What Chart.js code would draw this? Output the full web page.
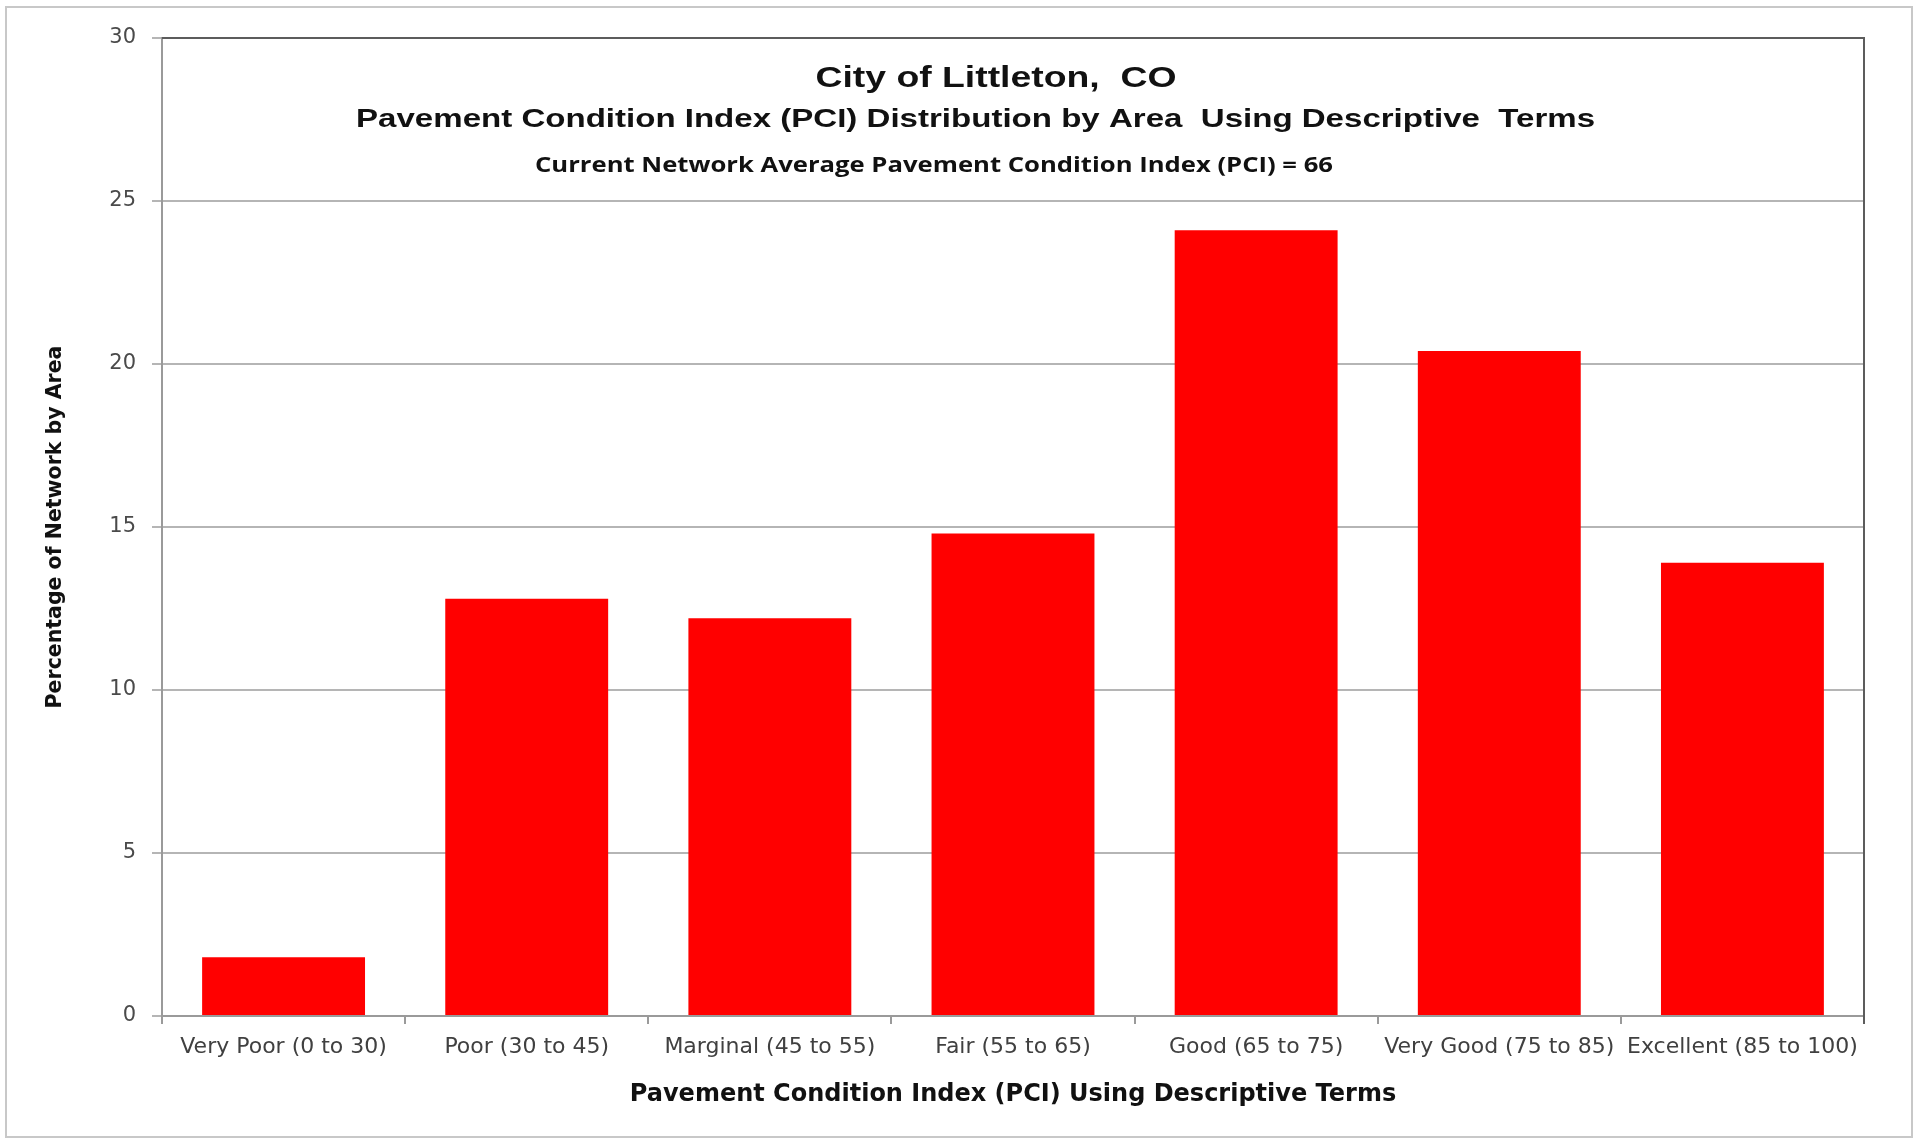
<!DOCTYPE html>
<html>
<head>
<meta charset="utf-8">
<title>City of Littleton, CO - PCI Distribution</title>
<script src="https://cdn.jsdelivr.net/npm/chart.js@4.4.1/dist/chart.umd.min.js"></script>
<style>
    html, body { margin: 0; padding: 0; background: #fff; }
    canvas { display: block; }
</style>
</head>
<body>
<canvas id="pciChart" width="1916" height="1139"></canvas>
<script>
// ------------------- Data -------------------
const categories = ['Very Poor (0 to 30)', 'Poor (30 to 45)', 'Marginal (45 to 55)', 'Fair (55 to 65)',
                    'Good (65 to 75)', 'Very Good (75 to 85)', 'Excellent (85 to 100)'];
const percentByArea = [1.8, 12.8, 12.2, 14.8, 24.1, 20.4, 13.9];
const yTicks = [0, 5, 10, 15, 20, 25, 30];
const titleLines = ['City of Littleton,  CO',
                    'Pavement Condition Index (PCI) Distribution by Area  Using Descriptive  Terms',
                    'Current Network Average Pavement Condition Index (PCI) = 66'];

// text drawn a bit wider than the font, like the stretched original
function drawStretched(ctx, text, x, y, font, targetWidth) {
    ctx.font = font;
    const sx = targetWidth / ctx.measureText(text).width;
    ctx.save();
    ctx.translate(x, y);
    ctx.scale(sx, 1);
    ctx.fillText(text, 0, 0);
    ctx.restore();
}

// ------------------- Frame, plot border and titles inside plot -------------------
const frameAndTitles = {
    id: 'frameAndTitles',
    beforeDraw(chart) {
        const ctx = chart.ctx;
        ctx.save();
        ctx.fillStyle = '#fff';
        ctx.fillRect(0, 0, chart.width, chart.height);
        ctx.strokeStyle = '#c8c8c8';
        ctx.lineWidth = 2;
        ctx.strokeRect(6, 7, 1906, 1130);
        ctx.restore();
    },
    afterDraw(chart) {
        const { ctx, chartArea: a } = chart;
        const w = a.right - a.left;
        ctx.save();
        ctx.strokeStyle = '#5c5c5c';
        ctx.lineWidth = 2;
        ctx.beginPath();
        ctx.moveTo(a.left, a.top);
        ctx.lineTo(a.right, a.top);
        ctx.lineTo(a.right, a.bottom + 8);
        ctx.stroke();

        ctx.fillStyle = '#111';
        ctx.textAlign = 'center';
        ctx.textBaseline = 'middle';
        drawStretched(ctx, titleLines[0], a.left + w * 0.490, a.top + 41, 'bold 29px "Liberation Sans"', 361);
        drawStretched(ctx, titleLines[1], a.left + w * 0.478, a.top + 82, 'bold 26px "Liberation Sans"', 1239);
        drawStretched(ctx, titleLines[2], a.left + w * 0.4536, a.top + 128, 'bold 22px "Open Sans"', 798);
        ctx.restore();
    }
};

// ------------------- Chart -------------------
new Chart(document.getElementById('pciChart'), {
    type: 'bar',
    data: {
        labels: categories,
        datasets: [{
            data: percentByArea,
            backgroundColor: '#ff0000',
            borderWidth: 0,
            barPercentage: 0.67,
            categoryPercentage: 1.0
        }]
    },
    options: {
        responsive: false,
        animation: false,
        layout: { padding: { top: 38, right: 52, left: 0, bottom: 0 } },
        plugins: { legend: { display: false }, tooltip: { enabled: false } },
        scales: {
            x: {
                grid: { drawOnChartArea: false, drawTicks: true, tickLength: 8, color: '#9a9a9a', lineWidth: 2, offset: true },
                border: { color: '#9a9a9a', width: 2 },
                ticks: { autoSkip: false, maxRotation: 0, padding: 10, color: '#404040',
                         font: { family: 'DejaVu Sans', size: 22 } },
                title: { display: true, text: 'Pavement Condition Index (PCI) Using Descriptive Terms', color: '#111',
                         font: { family: 'DejaVu Sans', size: 24, weight: 'bold' }, padding: { top: 0, bottom: 30 } },
                afterFit(scale) { scale.height = 123; }
            },
            y: {
                min: 0,
                max: 30,
                afterBuildTicks(scale) { scale.ticks = yTicks.map(v => ({ value: v })); },
                ticks: { padding: 16, color: '#4a4a4a', font: { family: 'DejaVu Sans', size: 21 } },
                grid: { color: '#b5b5b5', lineWidth: 2, tickLength: 10 },
                border: { color: '#9a9a9a', width: 2 },
                title: { display: true, text: 'Percentage of Network by Area', color: '#111',
                         font: { family: 'DejaVu Sans', size: 20.5, weight: 'bold' }, padding: { top: 43, bottom: 0 } },
                afterFit(scale) { scale.width = 162; }
            }
        }
    },
    plugins: [frameAndTitles]
});
</script>
</body>
</html>
